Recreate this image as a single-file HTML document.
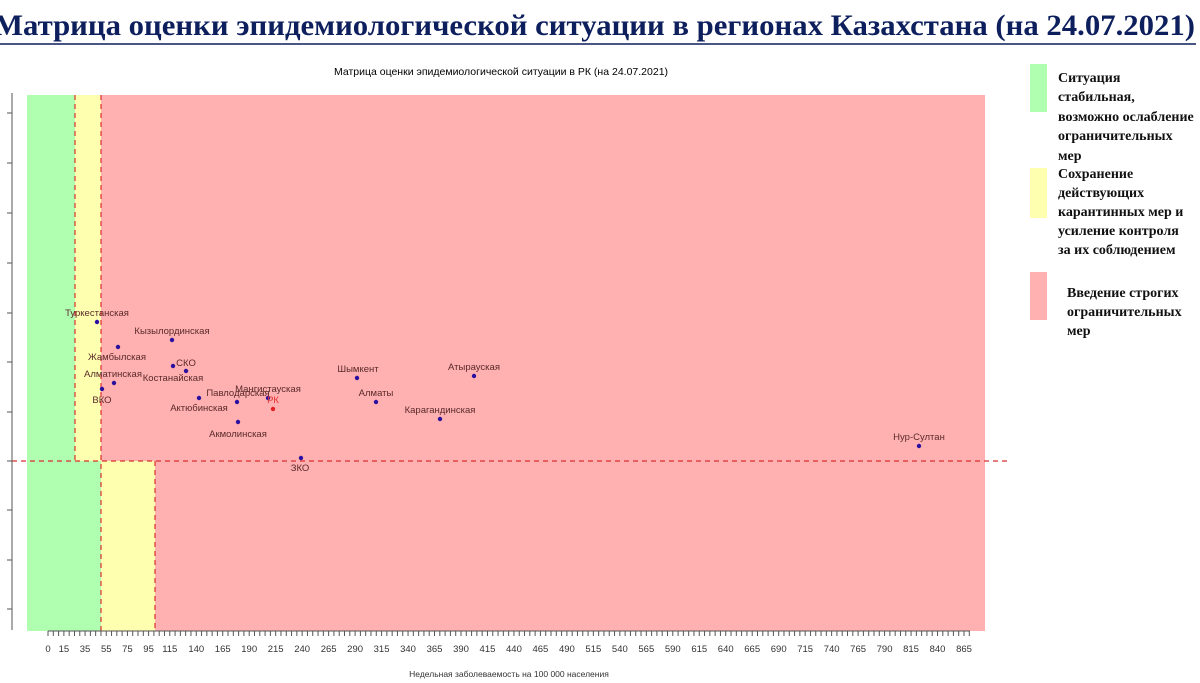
<!DOCTYPE html>
<html><head><meta charset="utf-8"><style>
html,body{margin:0;padding:0;background:#fff;width:1200px;height:683px;overflow:hidden}
</style></head><body>
<svg width="1200" height="683" xmlns="http://www.w3.org/2000/svg" style="display:block">
<text x="-6" y="35" font-family="Liberation Serif, serif" font-weight="bold" font-size="30" fill="#0d1f5c" textLength="1201" lengthAdjust="spacingAndGlyphs">Матрица оценки эпидемиологической ситуации в регионах Казахстана (на 24.07.2021)</text>
<line x1="0" y1="44" x2="1196" y2="44" stroke="#0d1f5c" stroke-width="1.5"/>
<text x="501" y="75" text-anchor="middle" font-family="Liberation Sans, sans-serif" font-size="10.5" fill="#000">Матрица оценки эпидемиологической ситуации в РК (на 24.07.2021)</text>
<rect x="27" y="95" width="958" height="536" fill="#ffb0b0"/>
<rect x="27" y="95" width="74" height="536" fill="#b0ffb0"/>
<rect x="75" y="95" width="26" height="366" fill="#ffffb0"/>
<rect x="101" y="461" width="54" height="170" fill="#ffffb0"/>
<g stroke="#d83030" stroke-width="1.2" stroke-dasharray="5,4" fill="none">
<line x1="75" y1="95" x2="75" y2="461"/>
<line x1="101" y1="95" x2="101" y2="631"/>
<line x1="155" y1="461" x2="155" y2="631"/>
<line x1="12" y1="461" x2="1008" y2="461"/>
</g>
<g stroke="#555" stroke-width="1">
<line x1="12" y1="93" x2="12" y2="630"/>
<line x1="7" y1="113" x2="12" y2="113"/><line x1="7" y1="163" x2="12" y2="163"/><line x1="7" y1="213" x2="12" y2="213"/><line x1="7" y1="263" x2="12" y2="263"/><line x1="7" y1="313" x2="12" y2="313"/><line x1="7" y1="362" x2="12" y2="362"/><line x1="7" y1="412" x2="12" y2="412"/><line x1="7" y1="461" x2="12" y2="461"/><line x1="7" y1="510" x2="12" y2="510"/><line x1="7" y1="560" x2="12" y2="560"/><line x1="7" y1="609" x2="12" y2="609"/>
<line x1="48" y1="631" x2="970" y2="631"/>
</g>
<g id="xt" stroke="#555" stroke-width="1"></g>
<g id="xl" font-family="Liberation Sans, sans-serif" font-size="9.5" fill="#333" text-anchor="middle"></g>
<text x="509" y="677" text-anchor="middle" font-family="Liberation Sans, sans-serif" font-size="8.5" fill="#333">Недельная заболеваемость на 100 000 населения</text>
<g fill="#2a10a0">
<circle cx="97" cy="322" r="2.2"/><circle cx="172" cy="340" r="2.2"/><circle cx="118" cy="347" r="2.2"/><circle cx="173" cy="366" r="2.2"/><circle cx="186" cy="371" r="2.2"/><circle cx="114" cy="383" r="2.2"/><circle cx="102" cy="389" r="2.2"/><circle cx="237" cy="402" r="2.2"/><circle cx="268" cy="398" r="2.2"/><circle cx="199" cy="398" r="2.2"/><circle cx="238" cy="422" r="2.2"/><circle cx="301" cy="458" r="2.2"/><circle cx="357" cy="378" r="2.2"/><circle cx="376" cy="402" r="2.2"/><circle cx="474" cy="376" r="2.2"/><circle cx="440" cy="419" r="2.2"/><circle cx="919" cy="446" r="2.2"/>
</g>
<circle cx="273" cy="409" r="2.2" fill="#e02020"/>
<g font-family="Liberation Sans, sans-serif" font-size="9.5" fill="#5a2a2a" text-anchor="middle">
<text x="97" y="316">Туркестанская</text><text x="172" y="334">Кызылординская</text><text x="117" y="360">Жамбылская</text><text x="186" y="366">СКО</text><text x="173" y="381">Костанайская</text><text x="113" y="377">Алматинская</text><text x="102" y="403">ВКО</text><text x="238" y="396">Павлодарская</text><text x="268" y="392">Мангистауская</text><text x="199" y="411">Актюбинская</text><text x="238" y="437">Акмолинская</text><text x="300" y="471">ЗКО</text><text x="358" y="372">Шымкент</text><text x="376" y="396">Алматы</text><text x="474" y="370">Атырауская</text><text x="440" y="413">Карагандинская</text><text x="919" y="440">Нур-Султан</text>
<text x="273" y="403" fill="#e03030">РК</text>
</g>
<rect x="1030" y="64" width="17" height="48" fill="#b0ffb0"/>
<rect x="1030" y="168" width="17" height="50" fill="#ffffb0"/>
<rect x="1030" y="272" width="17" height="48" fill="#ffb0b0"/>
<g font-family="Liberation Serif, serif" font-weight="bold" font-size="14" fill="#111">
<text x="1058" y="82">Ситуация</text><text x="1058" y="101">стабильная,</text><text x="1058" y="121">возможно ослабление</text><text x="1058" y="140">ограничительных</text><text x="1058" y="160">мер</text>
<text x="1058" y="178">Сохранение</text><text x="1058" y="197">действующих</text><text x="1058" y="216">карантинных мер и</text><text x="1058" y="235">усиление контроля</text><text x="1058" y="254">за их соблюдением</text>
<text x="1067" y="297">Введение строгих</text><text x="1067" y="316">ограничительных</text><text x="1067" y="335">мер</text>
</g>
</svg>
<script>
var ns="http://www.w3.org/2000/svg",xt=document.getElementById("xt"),xl=document.getElementById("xl");
function X(v){return 48+v*(964-48)/865;}
for(var v=0;v<=870;v+=5){var l=document.createElementNS(ns,"line");var x=X(v);l.setAttribute("x1",x);l.setAttribute("x2",x);l.setAttribute("y1",631);l.setAttribute("y2",636);xt.appendChild(l);}
var labs=[0,15,35,55,75,95,115];for(var v=140;v<=865;v+=25)labs.push(v);
labs.forEach(function(v){var t=document.createElementNS(ns,"text");t.setAttribute("x",X(v));t.setAttribute("y",652);t.textContent=v;xl.appendChild(t);});
</script>
</body></html>
